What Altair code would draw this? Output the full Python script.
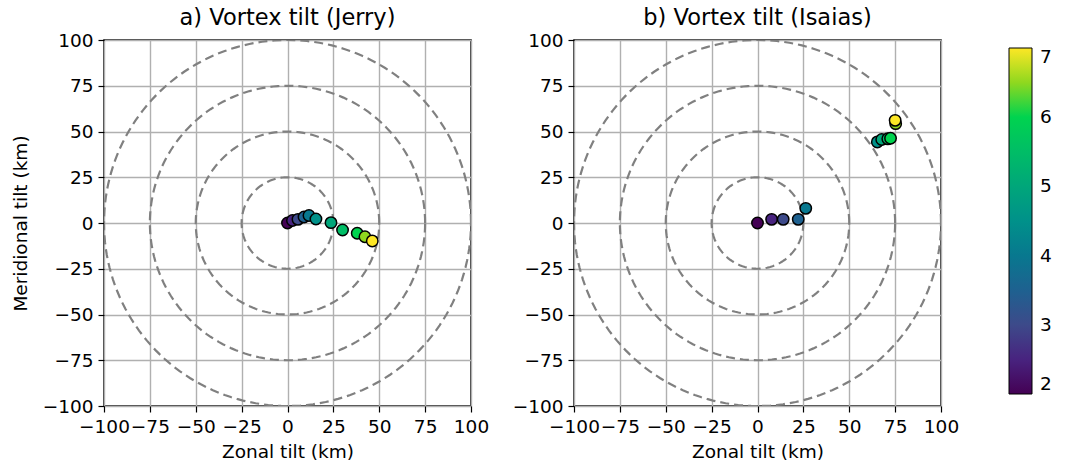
import altair as alt
import pandas as pd
import numpy as np

# ---- data ----
times = [2, 2.5, 3, 3.5, 4, 4.5, 5, 5.5, 6, 6.5, 7]
jerry_x = [0, 2.7, 5.7, 9.0, 11.7, 15.5, 23.7, 30.0, 38.0, 42.2, 46.2]
jerry_y = [0, 1.4, 2.0, 3.3, 4.1, 2.2, 0.2, -3.8, -5.6, -7.5, -9.8]
isaias_x = [0, 7.7, 14.0, 22.2, 26.3, 65.3, 67.7, 71.0, 72.5, 75.3, 75.0]
isaias_y = [0, 2.0, 2.0, 2.0, 8.0, 44.3, 45.6, 46.0, 46.3, 54.3, 56.1]
radii = [25, 50, 75, 100]
ticks = [-100, -75, -50, -25, 0, 25, 50, 75, 100]
cbar_ticks = [2, 3, 4, 5, 6, 7]
cmap_colors = ["#440154", "#48237f", "#3d4a8a", "#1e6190", "#08788f", "#00918a",
               "#00a67a", "#00bd66", "#00d34f", "#8fd81f", "#fde725"]

FONT = "DejaVu Sans"
FS = 18.5

# dashed reference circles
ang = np.linspace(0, 2 * np.pi, 181)
circ = pd.concat([pd.DataFrame({"r": r, "i": np.arange(len(ang)),
                                "cx": r * np.cos(ang), "cy": r * np.sin(ang)})
                  for r in radii], ignore_index=True)

color_scale = alt.Scale(domain=times, range=cmap_colors, interpolate="rgb")
xs = alt.Scale(domain=[-100, 100], nice=False, zero=False)
ys = alt.Scale(domain=[-100, 100], nice=False, zero=False)


def panel(xv, yv, title, show_ytitle):
    df = pd.DataFrame({"x": xv, "y": yv, "t": times, "order": range(len(times))})
    xaxis = alt.Axis(values=ticks, title="Zonal tilt (km)", grid=True)
    yaxis = alt.Axis(values=ticks, title="Meridional tilt (km)" if show_ytitle else None, grid=True)
    circles = alt.Chart(circ).mark_line(
        color="#808080", strokeWidth=2.2, strokeDash=[9, 5], clip=True
    ).encode(
        x=alt.X("cx:Q", scale=xs, axis=xaxis),
        y=alt.Y("cy:Q", scale=ys, axis=yaxis),
        detail="r:N",
        order="i:Q",
    )
    pts = alt.Chart(df).mark_circle(
        size=130, opacity=1, stroke="black", strokeWidth=1.5
    ).encode(
        x=alt.X("x:Q", scale=xs),
        y=alt.Y("y:Q", scale=ys),
        color=alt.Color("t:Q", scale=color_scale,
                        legend=alt.Legend(title=None, values=cbar_ticks, direction="vertical",
                                          orient="none", legendX=905, legendY=8,
                                          gradientLength=346, gradientThickness=23,
                                          gradientStrokeColor="black", gradientStrokeWidth=1,
                                          labelFontSize=FS, labelFont=FONT, labelColor="black",
                                          labelOffset=8)),
        order="order:Q",
    )
    return (circles + pts).properties(
        width=367, height=366,
        title=alt.TitleParams(title, fontSize=22.5, font=FONT, fontWeight="normal",
                              color="black", offset=2),
    )


left = panel(jerry_x, jerry_y, "a) Vortex tilt (Jerry)", True)
right = panel(isaias_x, isaias_y, "b) Vortex tilt (Isaias)", False)

chart = alt.hconcat(left, right, spacing=103, bounds="flush").resolve_scale(
    color="shared"
).configure_view(
    stroke="black", strokeWidth=1.5
).configure_axis(
    labelFont=FONT, titleFont=FONT, labelFontSize=FS, titleFontSize=FS,
    labelColor="black", titleColor="black", titleFontWeight="normal",
    domain=False, tickColor="black", tickSize=6, tickWidth=1.2,
    gridColor="#b0b0b0", gridWidth=1.4, labelPadding=5, labelFlush=False,
    labelOverlap=False,
).configure_axisX(titlePadding=7).configure_axisY(titlePadding=12).properties(
    padding={"left": 10, "top": 5, "right": 5, "bottom": 5},
    background="white",
)

chart.save("out.html", embed_options={"renderer": "svg", "actions": False})
